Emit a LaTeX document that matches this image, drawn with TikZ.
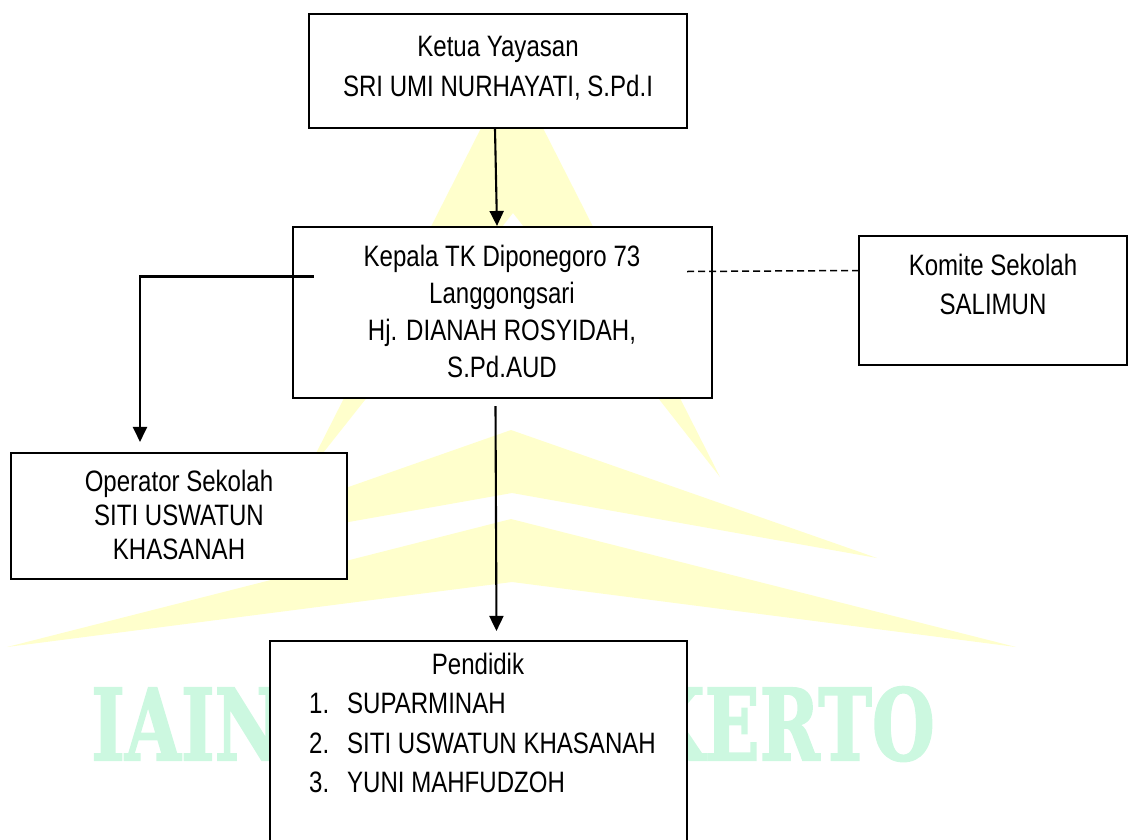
\documentclass[tikz,border=0pt]{standalone}
\usepackage{fontspec}
\setmainfont{Liberation Sans}[FakeStretch=0.815]
\newfontfamily\wmfont{DejaVu Serif}[BoldFeatures={FakeBold=2}]
\usetikzlibrary{arrows.meta}
\definecolor{wmyellow}{HTML}{FFFFCC}
\definecolor{wmgreen}{HTML}{CCF8E0}
\begin{document}
\begin{tikzpicture}[x=1pt,y=-1pt,
  box/.style={draw=black, line width=2.1pt, fill=white, inner sep=0pt},
  txt/.style={inner sep=0pt, align=center, anchor=north},
  arr/.style={line width=2.1pt, -{Triangle[length=15pt,width=14pt]}},
  wm/.style={inner sep=0pt, text=wmgreen, font=\wmfont\bfseries\fontsize{98.8}{100}\selectfont},
]
\useasboundingbox (0,0) rectangle (1128,839);
% watermark
\fill[wmyellow] (512,67) -- (720,477) -- (513,213) -- (304,477) -- cycle;
\fill[wmyellow] (511,430) -- (877,558) -- (512,493) -- (146,558) -- cycle;
\fill[wmyellow] (511,519) -- (1016,647) -- (512,582) -- (7,647) -- cycle;
\node[wm, anchor=base west] (wm1) at (91,760) {\scalebox{0.73}[1]{IAIN}};
\node[wm, anchor=base east] (wm2) at (935,760) {\scalebox{0.73}[1]{PURWOKERTO}};
% boxes
\node[box, minimum width=378pt, minimum height=114pt] (b1) at (498,71) {};
\node[box, minimum width=419pt, minimum height=171pt] (b2) at (502.5,312.5) {};
\node[box, minimum width=268pt, minimum height=129pt] (b3) at (993,300.5) {};
\node[box, minimum width=336pt, minimum height=126pt] (b4) at (179,516) {};
\node[box, minimum width=417pt, minimum height=209pt] (b5) at (478.5,745.5) {};
% texts
\node[txt, font=\fontsize{29.5}{40}\selectfont] (t1) at (498,31)
  {\rule{0pt}{25pt}Ketua Yayasan\\SRI UMI NURHAYATI, S.Pd.I};
\node[txt, font=\fontsize{29.5}{37}\selectfont] (t2) at (502,241)
  {\rule{0pt}{25pt}Kepala TK Diponegoro 73\\Langgongsari\\Hj. DIANAH ROSYIDAH,\\S.Pd.AUD};
\node[txt, font=\fontsize{29.5}{39}\selectfont] (t3) at (993,250)
  {\rule{0pt}{25pt}Komite Sekolah\\SALIMUN};
\node[txt, font=\fontsize{29.5}{34}\selectfont] (t4) at (179,466)
  {\rule{0pt}{25pt}Operator Sekolah\\SITI USWATUN\\KHASANAH};
\node[txt, font=\fontsize{29.5}{40}\selectfont] (t5) at (478,649.5)
  {\rule{0pt}{25pt}Pendidik};
\node[inner sep=0pt, align=left, anchor=north west, font=\fontsize{29.5}{39.5}\selectfont] (t6) at (309,688.5)
  {\rule{0pt}{25pt}1.\\2.\\3.};
\node[inner sep=0pt, align=left, anchor=north west, font=\fontsize{29.5}{39.5}\selectfont] (t7) at (347,688.5)
  {\rule{0pt}{25pt}SUPARMINAH\\SITI USWATUN KHASANAH\\YUNI MAHFUDZOH};
% connectors
\draw[arr] ([xshift=-3pt]b1.south) -- ([xshift=-5.5pt]b2.north);
\draw[arr] ([shift={(22,-36)}]b2.west) -| ([shift={(-39,-10)}]b4.north);
\draw[line width=1.5pt, dash pattern=on 7pt off 4pt] ([shift={(-26,-41)}]b2.east) -- ([shift={(0,-30)}]b3.west);
\draw[arr] ([shift={(-7,7)}]b2.south) -- ([shift={(18,-9)}]b5.north);
\end{tikzpicture}
\end{document}
